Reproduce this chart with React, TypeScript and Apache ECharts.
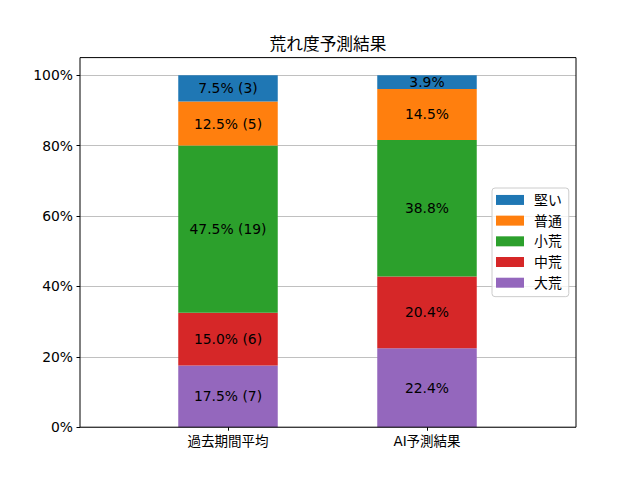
import React, { useEffect, useRef } from "react";
import * as echarts from "echarts";

const categories = ["過去期間平均", "AI予測結果"];
const seriesNames = ["大荒", "中荒", "小荒", "普通", "堅い"];
const seriesColors = ["#9467bd", "#d62728", "#2ca02c", "#ff7f0e", "#1f77b4"];
const pastValues = [17.5, 15.0, 47.5, 12.5, 7.5];
const pastCounts = [7, 6, 19, 5, 3];
const aiValues = [22.4, 20.4, 38.8, 14.5, 3.9];
const yTicks = [0, 20, 40, 60, 80, 100];
const legendOrder = ["堅い", "普通", "小荒", "中荒", "大荒"];
const titleText = "荒れ度予測結果";

const FONT = "'DejaVu Sans', 'Noto Sans CJK JP', sans-serif";

export default function App() {
  const ref = useRef<HTMLDivElement>(null);
  useEffect(() => {
    if (!ref.current) return;
    const chart = echarts.init(ref.current, null, { renderer: "svg" });
    const top = 57.6;
    const height = 369.6;
    const series = seriesNames.map((name, i) => ({
      name,
      type: "bar",
      stack: "total",
      xAxisIndex: 1,
      yAxisIndex: 1,
      barWidth: "50%",
      itemStyle: { color: seriesColors[i] },
      data: [pastValues[i], aiValues[i]],
      label: {
        show: true,
        position: "inside",
        color: "#000",
        fontSize: 13.9,
        fontFamily: FONT,
        formatter: (p: any) =>
          p.dataIndex === 0
            ? `${pastValues[i].toFixed(1)}% (${pastCounts[i]})`
            : `${aiValues[i].toFixed(1)}%`,
      },
    }));
    chart.setOption({
      animation: false,
      textStyle: { fontFamily: FONT },
      grid: [
        { left: 80, width: 496, top, height, show: false },
        { left: 128.5, width: 398, top, height, show: false },
      ],
      xAxis: [
        { type: "value", gridIndex: 0, min: 0, max: 1, show: false },
        {
          type: "category",
          gridIndex: 1,
          data: categories,
          axisLine: { show: false },
          axisTick: {
            show: true,
            alignWithLabel: true,
            length: 3.5,
            lineStyle: { color: "#000", width: 1 },
          },
          axisLabel: { color: "#000", fontSize: 13.5, fontFamily: FONT, margin: 7 },
        },
      ],
      yAxis: [
        {
          type: "value",
          gridIndex: 0,
          min: 0,
          max: 105,
          interval: 20,
          axisLine: { show: false },
          axisTick: {
            show: true,
            length: 3.5,
            customValues: yTicks,
            lineStyle: { color: "#000", width: 1 },
          },
          axisLabel: {
            color: "#000",
            fontSize: 13.9,
            fontFamily: FONT,
            margin: 7,
            customValues: yTicks,
            formatter: (v: number) => `${v}%`,
          },
          splitLine: { show: true, lineStyle: { color: "#b0b0b0", width: 0.8 } },
        },
        { type: "value", gridIndex: 1, min: 0, max: 105, show: false },
      ],
      legend: {
        orient: "vertical",
        data: legendOrder,
        left: 492,
        top: 188,
        itemWidth: 28,
        itemHeight: 10,
        itemGap: 6.8,
        padding: [5, 7, 7, 4],
        backgroundColor: "rgba(255,255,255,0.8)",
        borderColor: "#cccccc",
        borderWidth: 1,
        borderRadius: 3,
        icon: "rect",
        textStyle: { color: "#000", fontSize: 13.9, fontFamily: FONT, padding: [0, 0, 0, 5] },
      },
      graphic: [
        {
          type: "rect",
          z: 100,
          shape: { x: 80, y: top, width: 496, height },
          style: { fill: "none", stroke: "#000", lineWidth: 1 },
          silent: true,
        },
        {
          type: "text",
          x: 328,
          y: 44,
          style: {
            text: titleText,
            fontSize: 16.7,
            fontFamily: FONT,
            fill: "#000",
            textAlign: "center",
            textVerticalAlign: "middle",
          },
        },
      ],
      series,
    });
    return () => chart.dispose();
  }, []);
  return (
    <div
      ref={ref}
      style={{ position: "fixed", left: 0, top: 0, width: 640, height: 480, background: "#fff" }}
    />
  );
}
